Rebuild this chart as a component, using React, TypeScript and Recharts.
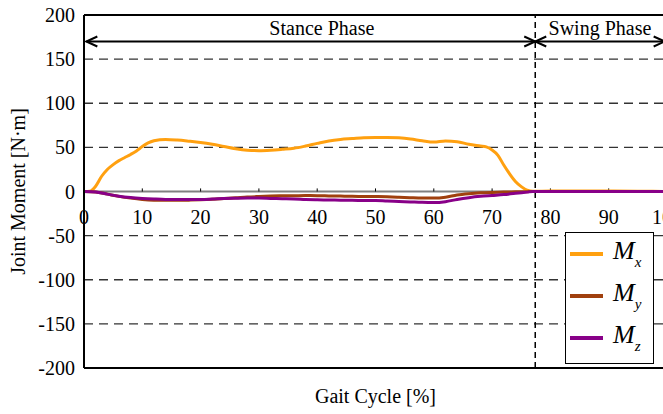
import React from 'react';
import { LineChart, Line, XAxis, YAxis, ReferenceLine, ReferenceDot, Legend } from 'recharts';

const mxGait = [0, 1, 2, 3, 4, 5, 6, 7, 8, 9, 10, 11, 12, 13, 14, 16, 18, 20, 22, 24, 26, 28, 30, 32, 34, 36, 38, 40, 42, 44, 46, 48, 50, 52, 54, 56, 58, 60, 62, 64, 66, 68, 69, 70, 71, 72, 73, 74, 75, 76, 77, 80, 85, 90, 95, 100];
const mxValues = [0, 0.3, 6, 17, 25, 30.5, 35, 38.5, 42, 46, 51, 55, 57.5, 58.7, 59, 58.3, 57, 55.5, 53.5, 51, 48.5, 46.8, 46.3, 46.8, 47.8, 49, 51.5, 54.5, 57.3, 59, 60, 61, 61.3, 61.3, 60.8, 59.5, 57.5, 56, 57.3, 56.5, 53.5, 51.5, 50.5, 47, 41, 30, 20, 11.3, 5.5, 1.5, 0.2, 0.5, 0.5, 0.6, 0.3, 0];

const myzGait = [0, 2, 4, 6, 8, 10, 12, 14, 16, 18, 20, 22, 24, 26, 28, 30, 32, 34, 36, 38, 40, 42, 44, 46, 48, 50, 52, 54, 56, 58, 60, 62, 64, 66, 68, 70, 72, 74, 76, 77, 80, 85, 90, 95, 100];
const myValues = [0, -0.5, -3, -5.5, -7.5, -9, -9.8, -10, -10, -9.8, -9.4, -8.8, -8, -7.2, -6.3, -5.7, -5.2, -4.9, -4.8, -4.6, -4.7, -5, -5.2, -5.5, -5.6, -5.7, -6, -6.5, -7, -7.4, -7.5, -6.5, -4, -2.5, -1.5, -1, -0.7, -0.4, -0.2, 0, 0, 0, 0, 0, 0];
const mzValues = [0, -0.5, -3, -5.3, -6.8, -7.8, -8.5, -9, -9.1, -9, -9, -8.6, -8, -7.7, -7.5, -7.5, -7.8, -8.1, -8.4, -9, -9.4, -9.6, -9.8, -10, -10.1, -10.2, -10.8, -11.3, -11.8, -12.3, -12.5, -11.5, -9, -7, -5.5, -4.5, -3.5, -2, -0.7, 0, 0, 0, 0, 0, 0];

const yTicks = [200, 150, 100, 50, 0, -50, -100, -150, -200];
const gridValues = [150, 100, 50, -50, -100, -150];
const xTickValues = [0, 10, 20, 30, 40, 50, 60, 70, 80, 90, 100];

const phaseBoundary = 77.4;
const phaseArrowY = 170;
const phaseLabelY = 185;
const phases = [
  { name: 'Stance Phase', start: 0.4, end: phaseBoundary, labelX: 40.8 },
  { name: 'Swing Phase', start: phaseBoundary, end: 99.6, labelX: 88.5 },
];

const seriesSubs = ['x', 'y', 'z'];
const seriesColors = ['#FFA010', '#A0400E', '#880088'];

const FONT = '"Liberation Serif", "Times New Roman", serif';

const mxData = mxGait.map((g, i) => ({ gait: g, value: mxValues[i] }));
const myData = myzGait.map((g, i) => ({ gait: g, value: myValues[i] }));
const mzData = myzGait.map((g, i) => ({ gait: g, value: mzValues[i] }));
const seriesData = [mxData, myData, mzData];

const ArrowShape = (p: any) => {
  const { x1, y1, x2, y2 } = p;
  const L = 11;
  const H = 5;
  return (
    <g>
      <line x1={x1} y1={y1} x2={x2} y2={y2} stroke="#000" strokeWidth={2} />
      <path d={`M${x1 + L},${y1 - H} L${x1},${y1} L${x1 + L},${y1 + H}`} fill="none" stroke="#000" strokeWidth={2} />
      <path d={`M${x2 - L},${y2 - H} L${x2},${y2} L${x2 - L},${y2 + H}`} fill="none" stroke="#000" strokeWidth={2} />
    </g>
  );
};

const LegendContent = () => (
  <div
    style={{
      width: 89,
      height: 132,
      boxSizing: 'border-box',
      border: '1.5px solid #000',
      background: '#fff',
      fontFamily: FONT,
    }}
  >
    {seriesSubs.map((s, i) => (
      <div key={s} style={{ height: 42, position: 'relative' }}>
        <div
          style={{
            position: 'absolute',
            left: 4,
            top: 19,
            width: 33,
            height: 4,
            background: seriesColors[i],
          }}
        />
        <div
          style={{
            position: 'absolute',
            left: 47,
            top: 3,
            fontStyle: 'italic',
            fontSize: 26,
            lineHeight: '30px',
            color: '#000',
            whiteSpace: 'nowrap',
          }}
        >
          M<sub style={{ fontSize: 15, verticalAlign: 'baseline', position: 'relative', top: 8 }}>{s}</sub>
        </div>
      </div>
    ))}
  </div>
);

export default function App() {
  return (
    <div
      style={{
        position: 'absolute',
        left: 0,
        top: 0,
        width: 663,
        height: 414,
        overflow: 'hidden',
        background: '#fff',
      }}
    >
      <LineChart width={680} height={414} margin={{ top: 15, right: 13, bottom: 0, left: 0 }}>
        <XAxis
          type="number"
          dataKey="gait"
          domain={[0, 100]}
          ticks={xTickValues}
          tick={false}
          tickLine={false}
          height={46}
          axisLine={{ stroke: '#000', strokeWidth: 2 }}
          label={{
            content: (props: any) => {
              const vb = props.viewBox || {};
              return (
                <text
                  x={vb.x + vb.width / 2}
                  y={vb.y + 28}
                  textAnchor="middle"
                  dominantBaseline="central"
                  fontFamily={FONT}
                  fontSize={20}
                  fill="#000"
                >
                  Gait Cycle [%]
                </text>
              );
            },
          }}
        />
        <YAxis
          type="number"
          domain={[-200, 200]}
          ticks={yTicks}
          width={84}
          tickLine={false}
          tickSize={0}
          tickMargin={9}
          interval={0}
          axisLine={{ stroke: '#000', strokeWidth: 2 }}
          tick={{ fill: '#000', fontSize: 20, fontFamily: FONT }}
          label={{
            content: (props: any) => {
              const vb = props.viewBox || {};
              const cx = vb.x + 18;
              const cy = vb.y + vb.height / 2;
              return (
                <text
                  x={cx}
                  y={cy}
                  transform={`rotate(-90, ${cx}, ${cy})`}
                  textAnchor="middle"
                  dominantBaseline="central"
                  fontFamily={FONT}
                  fontSize={20}
                  fill="#000"
                >
                  Joint Moment [N·m]
                </text>
              );
            },
          }}
        />
        {gridValues.map((v) => (
          <ReferenceLine key={'g' + v} y={v} stroke="#333" strokeWidth={1.3} strokeDasharray="9 6" />
        ))}
        <ReferenceLine y={200} stroke="#000" strokeWidth={2} />
        <ReferenceLine y={0} stroke="#808080" strokeWidth={2} />
        {xTickValues.slice(1).map((v) => (
          <ReferenceLine
            key={'t' + v}
            segment={[{ x: v, y: 0 }, { x: v, y: 3.5 }]}
            stroke="#000"
            strokeWidth={1}
          />
        ))}
        {xTickValues.map((v) => (
          <ReferenceDot
            key={'l' + v}
            x={v}
            y={0}
            r={0}
            stroke="none"
            fill="none"
            label={{ value: String(v), position: 'bottom', offset: 18, fill: '#000', fontSize: 20, fontFamily: FONT }}
          />
        ))}
        <ReferenceLine x={phaseBoundary} stroke="#000" strokeWidth={1.5} strokeDasharray="6 4" />
        {phases.map((ph) => (
          <ReferenceLine
            key={ph.name}
            segment={[{ x: ph.start, y: phaseArrowY }, { x: ph.end, y: phaseArrowY }]}
            shape={ArrowShape}
          />
        ))}
        {phases.map((ph) => (
          <ReferenceDot
            key={'p' + ph.name}
            x={ph.labelX}
            y={phaseLabelY}
            r={0}
            stroke="none"
            fill="none"
            label={{ value: ph.name, position: 'center', fill: '#000', fontSize: 20, fontFamily: FONT }}
          />
        ))}
        {seriesData.map((d, i) => (
          <Line
            key={seriesSubs[i]}
            data={d}
            dataKey="value"
            name={'M' + seriesSubs[i]}
            type="monotone"
            stroke={seriesColors[i]}
            strokeWidth={3}
            dot={false}
            activeDot={false}
            isAnimationActive={false}
          />
        ))}
        <Legend
          layout="vertical"
          align="center"
          verticalAlign="middle"
          content={<LegendContent />}
          wrapperStyle={{ left: 565, top: 232, width: 89, height: 132 }}
        />
      </LineChart>
    </div>
  );
}
